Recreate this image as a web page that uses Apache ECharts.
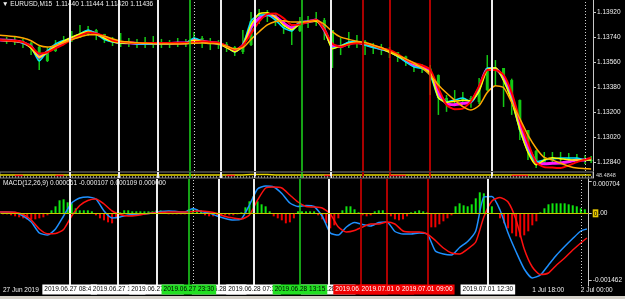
<!DOCTYPE html>
<html><head><meta charset="utf-8">
<script src="https://cdn.jsdelivr.net/npm/echarts@6/dist/echarts.min.js"></script>
<style>html,body{margin:0;padding:0;background:#000}#c{width:625px;height:299px}</style>
</head><body><div id="c"></div>
<script>
// ---- time index: trading hours since 27 Jun 2019 00:00 (weekend compressed) ----
const lineHours = [...Array(73).keys(), 72.75];
const histStep = 0.5;

// ---- main panel (EURUSD M15) ----
const closePrice = [1.13718,1.13718,1.13711,1.13697,1.13668,1.13567,1.13639,1.13690,1.13715,1.13736,
 1.13762,1.13790,1.13762,1.13722,1.13704,1.13697,1.13697,1.13690,1.13690,1.13690,
 1.13690,1.13690,1.13697,1.13697,1.13733,1.13711,1.13697,1.13690,1.13668,1.13632,
 1.13682,1.13855,1.13898,1.13898,1.13862,1.13805,1.13783,1.13848,1.13852,1.13862,
 1.13790,1.13661,1.13675,1.13704,1.13708,1.13682,1.13664,1.13650,1.13632,1.13600,
 1.13560,1.13524,1.13513,1.13466,1.13301,1.13272,1.13286,1.13301,1.13272,1.13358,
 1.13517,1.13517,1.13430,1.13286,1.13070,1.12919,1.12840,1.12854,1.12862,1.12869,
 1.12869,1.12869,1.12854,1.12854];
const highPrice = [1.13740,1.13740,1.13740,1.13726,1.13704,1.13675,1.13668,1.13718,1.13747,1.13783,
 1.13826,1.13819,1.13798,1.13762,1.13740,1.13769,1.13733,1.13726,1.13740,1.13747,
 1.13726,1.13718,1.13733,1.13726,1.13776,1.13747,1.13733,1.13718,1.13704,1.13675,
 1.13790,1.13920,1.13942,1.13934,1.13906,1.13862,1.13834,1.13884,1.13891,1.13920,
 1.13877,1.13790,1.13733,1.13776,1.13754,1.13718,1.13697,1.13690,1.13668,1.13632,
 1.13605,1.13560,1.13546,1.13538,1.13470,1.13323,1.13358,1.13344,1.13315,1.13445,
 1.13610,1.13574,1.13517,1.13440,1.13290,1.13071,1.12926,1.12912,1.12912,1.12912,
 1.12905,1.12898,1.12890,1.12884];
const lowPrice = [1.13697,1.13690,1.13682,1.13661,1.13610,1.13502,1.13560,1.13632,1.13682,1.13704,
 1.13733,1.13747,1.13718,1.13697,1.13675,1.13668,1.13668,1.13661,1.13661,1.13661,
 1.13661,1.13661,1.13668,1.13668,1.13690,1.13661,1.13646,1.13654,1.13632,1.13603,
 1.13618,1.13675,1.13834,1.13848,1.13819,1.13762,1.13682,1.13776,1.13805,1.13819,
 1.13718,1.13517,1.13610,1.13661,1.13661,1.13610,1.13618,1.13610,1.13589,1.13560,
 1.13531,1.13488,1.13481,1.13323,1.13179,1.13201,1.13244,1.13258,1.13230,1.13258,
 1.13350,1.13394,1.13236,1.13179,1.12998,1.12855,1.12797,1.12818,1.12826,1.12833,
 1.12833,1.12833,1.12826,1.12833];
const fastMA = [1.13718,1.13713,1.13708,1.13702,1.13659,1.13595,1.13631,1.13674,1.13710,1.13738,
 1.13762,1.13779,1.13761,1.13731,1.13708,1.13697,1.13697,1.13697,1.13697,1.13697,
 1.13697,1.13697,1.13697,1.13697,1.13716,1.13710,1.13699,1.13691,1.13664,1.13633,
 1.13677,1.13826,1.13908,1.13915,1.13881,1.13825,1.13793,1.13834,1.13849,1.13854,
 1.13795,1.13655,1.13674,1.13693,1.13701,1.13693,1.13675,1.13656,1.13630,1.13603,
 1.13575,1.13546,1.13517,1.13483,1.13304,1.13269,1.13276,1.13285,1.13281,1.13350,
 1.13505,1.13518,1.13428,1.13279,1.13075,1.12909,1.12820,1.12854,1.12871,1.12864,
 1.12856,1.12854,1.12854,1.12854];
const magentaMA = [1.13718,1.13717,1.13712,1.13700,1.13670,1.13594,1.13634,1.13675,1.13701,1.13728,
 1.13755,1.13781,1.13763,1.13735,1.13710,1.13701,1.13698,1.13693,1.13693,1.13693,
 1.13693,1.13693,1.13697,1.13697,1.13718,1.13710,1.13700,1.13694,1.13671,1.13640,
 1.13680,1.13810,1.13875,1.13901,1.13885,1.13840,1.13805,1.13840,1.13850,1.13863,
 1.13791,1.13676,1.13672,1.13695,1.13701,1.13688,1.13672,1.13655,1.13639,1.13608,
 1.13570,1.13538,1.13524,1.13486,1.13337,1.13262,1.13253,1.13262,1.13274,1.13372,
 1.13510,1.13510,1.13449,1.13313,1.13106,1.12950,1.12838,1.12828,1.12831,1.12833,
 1.12842,1.12854,1.12855,1.12861];
const midMA = [1.13718,1.13716,1.13713,1.13703,1.13672,1.13621,1.13630,1.13659,1.13687,1.13721,
 1.13749,1.13773,1.13764,1.13747,1.13715,1.13705,1.13700,1.13697,1.13697,1.13697,
 1.13697,1.13697,1.13697,1.13697,1.13703,1.13710,1.13703,1.13698,1.13675,1.13648,
 1.13679,1.13765,1.13852,1.13905,1.13909,1.13875,1.13826,1.13831,1.13849,1.13864,
 1.13793,1.13691,1.13669,1.13687,1.13695,1.13695,1.13680,1.13659,1.13646,1.13617,
 1.13579,1.13553,1.13536,1.13506,1.13373,1.13252,1.13220,1.13224,1.13277,1.13387,
 1.13502,1.13502,1.13468,1.13340,1.13142,1.12980,1.12836,1.12803,1.12800,1.12797,
 1.12816,1.12839,1.12857,1.12869];
const slowMA = [1.13754,1.13749,1.13744,1.13733,1.13713,1.13679,1.13668,1.13679,1.13700,1.13722,
 1.13740,1.13757,1.13757,1.13745,1.13727,1.13710,1.13704,1.13698,1.13695,1.13692,
 1.13690,1.13690,1.13690,1.13692,1.13695,1.13696,1.13693,1.13690,1.13674,1.13654,
 1.13663,1.13723,1.13778,1.13827,1.13852,1.13857,1.13848,1.13848,1.13852,1.13858,
 1.13831,1.13777,1.13739,1.13723,1.13710,1.13700,1.13683,1.13664,1.13637,1.13610,
 1.13582,1.13553,1.13518,1.13466,1.13395,1.13337,1.13285,1.13239,1.13214,1.13246,
 1.13340,1.13389,1.13376,1.13269,1.13152,1.13033,1.12939,1.12873,1.12855,1.12831,
 1.12810,1.12796,1.12792,1.12790];
const priceTicks = [1.1284,1.1302,1.132,1.1338,1.1356,1.1374,1.1392];

// ---- thin indicator strip ----
const stripLevel = [5,5,5,5,5,5,5,5,5,5, 5,5,5,5,5,5,5,5,5,5, 5,5,5,5,5,5,5,5,5,5,
 5,6,6,6,5,5,5,5,5,5, 5,5,5,5,5,5,5,5,5,5, 5,5,5,5,5,5,5,5,5,5, 5,5,5,5,5,5,5,5,5,5, 5,5,5,5];
const stripRed = [null,null,4,4,null,null,null,4,4,null, null,null,null,null,null,null,null,null,null,null,
 null,null,null,null,null,null,null,null,4,4, null,null,null,null,null,null,null,null,null,null,
 4,4,null,null,null,null,null,null,4,4, 4,null,null,null,null,null,null,null,null,null,
 null,null,null,4,4,4,null,null,null,null, null,null,null,null];
const stripLabel = '48.4848';

// ---- MACD panel (values in millionths) ----
const macdMain = [29,29,18,-59,-191,-433,-477,-345,-59,227,
 337,359,315,51,-103,-81,-37,-26,-15,7,
 40,51,40,29,106,40,7,-59,-114,-147,
 -125,183,535,601,579,436,227,150,172,150,
 -59,-433,-477,-301,-202,-246,-279,-202,-191,-400,
 -455,-455,-433,-455,-829,-895,-917,-752,-620,-389,
 359,370,73,-433,-851,-1225,-1423,-1357,-1137,-917,
 -730,-554,-389,-345];
const macdSignal = [29,29,22,-26,-147,-345,-449,-444,-356,-59,
 172,282,315,205,51,-26,-59,-48,-15,7,
 18,29,29,29,40,51,33,-4,-70,-103,
 -125,-37,293,557,579,557,403,249,150,139,
 117,-15,-301,-411,-378,-301,-235,-235,-191,-235,
 -389,-411,-411,-455,-598,-763,-873,-895,-785,-631,
 -81,271,348,249,-147,-785,-1181,-1346,-1313,-1137,
 -983,-807,-653,-543];
const macdHist = [-22,-22,-22,-44,-66,-88,-110,-132,-132,-132,
 -110,-88,-44,66,154,286,308,242,220,110,
 66,66,66,44,-44,-110,-154,-198,-220,-110,
 22,66,66,44,44,44,44,44,44,66,
 66,44,-22,-22,-22,-22,-22,88,110,88,
 66,-44,-66,-66,-44,-44,-44,-44,-44,-22,
 22,132,264,374,264,198,154,44,-66,-110,
 -154,-220,-198,-110,44,44,44,44,44,-44,
 -132,-220,-330,-264,-110,66,154,154,88,22,
 -44,-66,-44,44,66,66,-22,-66,-132,-154,
 -132,-66,22,44,66,44,22,-308,-308,-242,
 -176,-110,-44,154,220,176,154,198,330,462,
 440,374,154,0,-110,-220,-330,-440,-506,-528,
 -484,-396,-264,-176,22,110,198,220,220,220,
 220,198,176,154,110,88];
const macdTicks = [704, 0, -1462];

// ---- time axis & objects ----
const timeTickHours = [0.5, 66, 72];
const timeTickLabels = ['27 Jun 2019', '1 Jul 18:00', '2 Jul 00:00'];
const daySeparatorHours = [24, 72];
const vlineHours = [8.75, 14.75, 19.5, 23.5, 27.25, 31.5, 37.25, 40.75, 44.75, 48, 53, 60.5];
const vlineKinds = ['white','white','white','green','white','white','green','white','darkred','red','red','white'];
const vlineLabels = ['2019.06.27 08:45','2019.06.27 14:45','2019.06.27 19:30','2019.06.27 23:30',
 '2019.06.28 03:15','2019.06.28 07:30','2019.06.28 13:15','2019.06.28 16:45',
 '2019.06.28 21:00','2019.07.01 00:00','2019.07.01 09:00','2019.07.01 12:30'];
const headerText = 'EURUSD,M15  1.11440 1.11444 1.11420 1.11436';
const macdText = 'MACD(12,26,9) 0.000061 -0.000107 0.000109 0.000000';

// ---- build chart ----
const FONT = 'Liberation Sans';
const X_MIN = 0.184, X_MAX = 72.98;
const pairs = arr => arr.map((v, i) => [lineHours[i], v]);
const vColors = {white:'#ececec', green:'#1ed81e', red:'#e80000', darkred:'#a80000'};
const vWidths = {white:2, green:1.5, red:1.5, darkred:2};

function vlineMarks(extra) {
  const d = vlineHours.map((h, i) => ({xAxis: h, lineStyle: {color: vColors[vlineKinds[i]], width: vWidths[vlineKinds[i]], type: 'solid'}}));
  daySeparatorHours.forEach(h => d.push({xAxis: h, lineStyle: {color: '#cfcfcf', width: 1, type: [1, 2]}}));
  (extra || []).forEach(e => d.push(e));
  return {symbol: ['none', 'none'], silent: true, label: {show: false}, animation: false, emphasis: {disabled: true}, data: d};
}
function lineS(data, color, width, z, gi, smooth) {
  return {type: 'line', xAxisIndex: gi, yAxisIndex: gi, data: pairs(data), showSymbol: false, symbol: 'none',
    smooth: smooth === undefined ? 0.2 : smooth, lineStyle: {color, width}, z, animation: false, silent: true};
}

const chart = echarts.init(document.getElementById('c'), null, {renderer: 'canvas', width: 625, height: 299});
const txt = {color: '#f0f0f0', fontSize: 6.5, fontFamily: FONT, fontWeight: 'normal'};

chart.setOption({
  backgroundColor: '#000',
  animation: false,
  title: [
    {text: '\u25BC ' + headerText, left: 2, top: 1, padding: 0, textStyle: txt},
    {text: macdText, left: 3, top: 180, padding: 0, textStyle: txt}
  ],
  grid: [
    {left: 0, top: 0, width: 593, height: 171, show: false},
    {left: 0, top: 172, width: 593, height: 6, show: true, borderColor: '#7c7c7c', borderWidth: 1, backgroundColor: 'transparent'},
    {left: 0, top: 179, width: 593, height: 107, show: false}
  ],
  xAxis: [0, 1, 2].map(i => ({
    type: 'value', gridIndex: i, min: X_MIN, max: X_MAX, show: i === 2,
    axisLine: {show: false}, axisTick: {show: false}, splitLine: {show: false},
    axisLabel: i === 2 ? {customValues: timeTickHours, formatter: v => { const k = timeTickHours.indexOf(v); return k >= 0 ? timeTickLabels[k] : ''; },
      color: '#f0f0f0', fontSize: 6.5, fontFamily: FONT, align: 'left', margin: 1} : {show: false}
  })),
  yAxis: [
    {type: 'value', gridIndex: 0, position: 'right', min: 1.127752, max: 1.140064,
      axisLine: {show: true, lineStyle: {color: '#c8c8c8'}},
      axisTick: {show: true, customValues: priceTicks, length: 3, lineStyle: {color: '#c8c8c8'}},
      axisLabel: {customValues: priceTicks, formatter: v => v.toFixed(5), color: '#f0f0f0', fontSize: 6.5, fontFamily: FONT, margin: 4},
      splitLine: {show: false}},
    {type: 'value', gridIndex: 1, position: 'right', min: 0, max: 10,
      axisLine: {show: true, lineStyle: {color: '#c8c8c8'}}, axisTick: {show: false},
      axisLabel: {customValues: [5], formatter: () => stripLabel, color: '#d8d8d8', fontSize: 5.5, fontFamily: FONT, margin: 3},
      splitLine: {show: false}},
    {type: 'value', gridIndex: 2, position: 'right', min: -1599, max: 755,
      axisLine: {show: true, lineStyle: {color: '#c8c8c8'}},
      axisTick: {show: true, customValues: macdTicks, length: 3, lineStyle: {color: '#c8c8c8'}},
      axisLabel: {customValues: macdTicks, color: '#f0f0f0', fontSize: 6.5, fontFamily: FONT, margin: 4,
        formatter: v => v === 0 ? '{z|0}{w|.00}' : (v > 0 ? '{t|' + (v / 1e6).toFixed(6) + '}' : (v / 1e6).toFixed(6)),
        rich: {
          t: {padding: [6, 0, 0, 0], color: '#f0f0f0', fontSize: 6.5, fontFamily: FONT},
          z: {backgroundColor: '#e8c800', color: '#000', fontSize: 6.5, fontFamily: FONT, padding: [1, 1, 0, 1]},
          w: {color: '#f0f0f0', fontSize: 6.5, fontFamily: FONT}
        }},
      splitLine: {show: false}}
  ],
  series: [
    // candles (wicks + bodies)
    {type: 'custom', xAxisIndex: 0, yAxisIndex: 0, z: 2, silent: true, clip: true, animation: false,
      data: lineHours.map((h, i) => [h, lowPrice[i], highPrice[i], closePrice[i > 0 ? i - 1 : 0], closePrice[i]]),
      renderItem: (params, api) => {
        const x = api.value(0);
        const lo = api.coord([x, api.value(1)]), hi = api.coord([x, api.value(2)]);
        const o = api.coord([x, api.value(3)]), c = api.coord([x, api.value(4)]);
        return {type: 'group', children: [
          {type: 'line', shape: {x1: lo[0], y1: lo[1], x2: hi[0], y2: hi[1]}, style: {stroke: '#14c814', lineWidth: 1.5}},
          {type: 'rect', shape: {x: o[0] - 1.5, y: Math.min(o[1], c[1]), width: 3, height: Math.max(1, Math.abs(o[1] - c[1]))}, style: {fill: '#14c814'}}
        ]};
      }},
    lineS(magentaMA, '#ff1aff', 3, 3, 0),
    lineS(closePrice, '#00e5ff', 1.5, 3, 0),
    lineS(fastMA, '#ffff00', 1.5, 4, 0),
    lineS(midMA, '#ff0000', 2, 4, 0),
    lineS(slowMA, '#ffa800', 1.5, 4, 0),
    {type: 'line', xAxisIndex: 0, yAxisIndex: 0, data: [], z: 6, markLine: vlineMarks()},
    // strip
    lineS(stripLevel, '#e8d800', 1.5, 3, 1, false),
    lineS(stripRed, '#ff2020', 1.5, 4, 1, false),
    {type: 'line', xAxisIndex: 1, yAxisIndex: 1, data: [], z: 2,
      markLine: vlineMarks([{yAxis: 2.5, lineStyle: {color: '#8a8a8a', width: 2, type: [1, 2]}}])},
    // MACD
    {type: 'bar', xAxisIndex: 2, yAxisIndex: 2, barWidth: 2, z: 2, silent: true, animation: false,
      data: macdHist.map((v, i) => [i * histStep, v]),
      itemStyle: {color: p => p.value[1] >= 0 ? '#10e610' : '#f00000'}},
    lineS(macdMain, '#1e90ff', 1.5, 4, 2),
    lineS(macdSignal, '#ff1010', 1.5, 4, 2),
    {type: 'line', xAxisIndex: 2, yAxisIndex: 2, data: [], z: 6,
      markLine: vlineMarks([{yAxis: 0, lineStyle: {color: '#c8c800', width: 1, type: 'solid'}}])}
  ]
});

// labels of vertical line objects on the time scale
const boxStyle = {white: {bg: '#ffffff', fg: '#000'}, darkred: {bg: '#f00000', fg: '#fff'}, red: {bg: '#f00000', fg: '#fff'}, green: {bg: '#22e022', fg: '#000'}};
const els = [];
let zc = 10;
['white', 'darkred', 'red', 'green'].forEach(kind => {
  vlineHours.forEach((h, i) => {
    if (vlineKinds[i] !== kind) return;
    const x = chart.convertToPixel({xAxisIndex: 2}, h);
    els.push({type: 'text', x: x, y: 289.5, z: zc++, silent: true,
      style: {text: vlineLabels[i], fill: boxStyle[kind].fg, backgroundColor: boxStyle[kind].bg,
        padding: [2, 2, 1, 2], fontSize: 6.5, fontFamily: FONT, align: 'center', verticalAlign: 'middle'}});
  });
});
els.push({type: 'rect', shape: {x: 0, y: 296, width: 625, height: 3}, style: {fill: '#d4d0c8'}, silent: true, z: 1});
chart.setOption({graphic: els});
</script>
</body></html>
